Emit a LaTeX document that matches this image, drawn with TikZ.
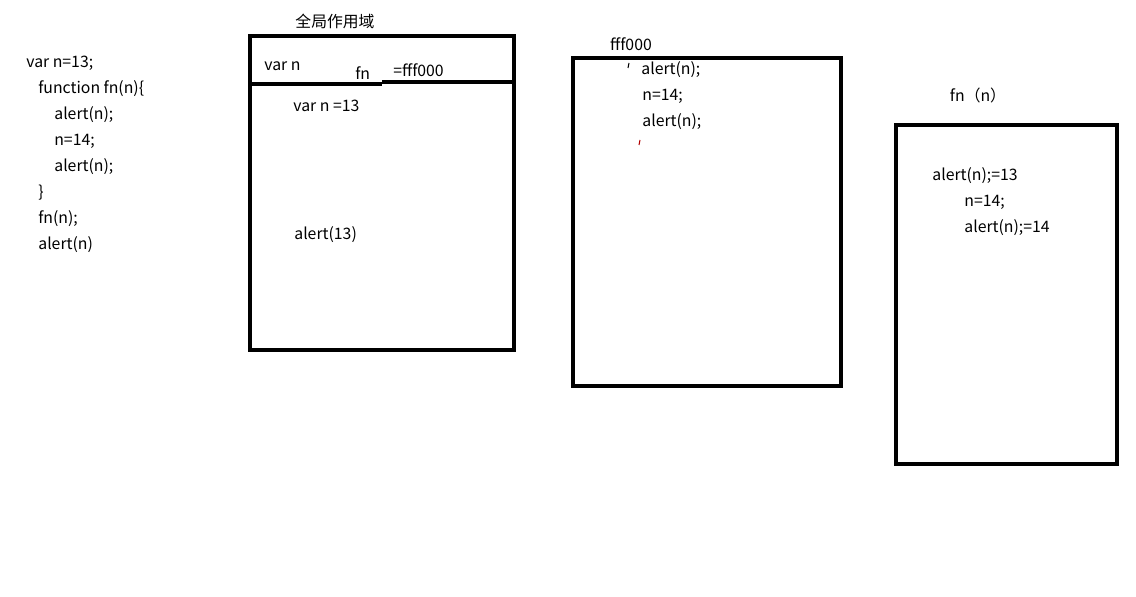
\documentclass[tikz,border=0pt]{standalone}
\usepackage{fontspec}
\setmainfont{Noto Sans CJK SC}
\usetikzlibrary{positioning}

\begin{document}
\begin{tikzpicture}[x=0.02cm,y=-0.02cm,
    box/.style={line width=2.6pt},
    code/.style={anchor=west,inner sep=0pt,font=\fontsize{9}{11}\selectfont},
    title/.style={inner sep=0pt,font=\fontsize{9}{11}\selectfont}]
    \useasboundingbox (0,0) rectangle (1136,597);
    % source code on the left
    \node[code] (l1) at (26,63) {var n=13;};
    \node[code] (l2) at (38,89) {function fn(n)\{};
    \node[code] (l3) at (54,115) {alert(n);};
    \node[code] (l4) at (54,141) {n=14;};
    \node[code] (l5) at (54,167) {alert(n);};
    \node[code] (l6) at (38,193) {\}};
    \node[code] (l7) at (38,219) {fn(n);};
    \node[code] (l8) at (38,245) {alert(n)};
    % global scope
    \node[title] (globaltitle) at (335,21) {全局作用域};
    \draw[box] (250,36) rectangle (514,350);
    \draw[box] (250,84) -- (382,84);
    \draw[box] (382,82) -- (514,82);
    \node[code] (varn) at (264,66) {var n};
    \node[code] (fnname) at (355,73) {fn};
    \node[code] (fnaddr) at (393,70) {=fff000};
    \node[code] (varval) at (293,106) {var n =13};
    \node[code] (galert) at (294,235) {alert(13)};
    % heap fff000
    \node[title] (heaptitle) at (631,44) {fff000};
    \draw[box] (573,58) rectangle (841,386);
    \draw[line width=0.6pt] (629,63) -- (628,68);
    \draw[line width=0.6pt,red!70!black] (640,140) -- (639,145);
    \node[code] (h1) at (641,70) {alert(n);};
    \node[code] (h2) at (642,96) {n=14;};
    \node[code] (h3) at (642,122) {alert(n);};
    % private scope fn(n)
    \node[title] (fntitle) at (978,95) {fn（n）};
    \draw[box] (896,125) rectangle (1117,464);
    \node[code] (p1) at (932,176) {alert(n);=13};
    \node[code] (p2) at (964,202) {n=14;};
    \node[code] (p3) at (964,228) {alert(n);=14};
\end{tikzpicture}
\end{document}
